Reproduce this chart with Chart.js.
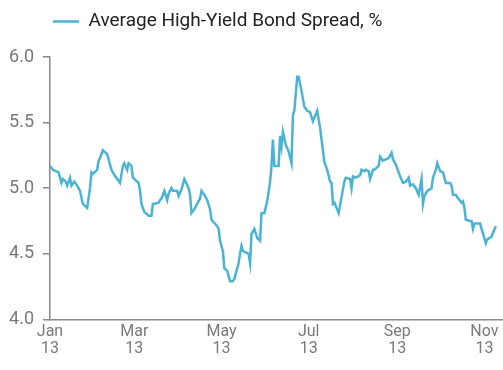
<!DOCTYPE html>
<html>
<head>
<meta charset="utf-8">
<script src="https://cdn.jsdelivr.net/npm/chart.js@4.4.1/dist/chart.umd.min.js"></script>
<style>
  html, body { margin: 0; padding: 0; background: #fff; }
  #wrap { width: 503px; height: 370px; }
</style>
</head>
<body>
<div id="wrap"><canvas id="spreadChart" width="503" height="370"></canvas></div>
<script>
// day of year (0 = 1 Jan 2013) and spread in %
const dayOfYear = [
  0, 2, 6, 8, 9, 11, 12, 14, 15, 17, 19, 21, 23, 26, 28, 29, 30, 33, 34, 35,
  37, 40, 43, 45, 49, 51, 52, 54, 55, 57, 58, 62, 63, 64, 66, 69, 71, 72, 76, 77,
  78, 80, 82, 83, 85, 86, 89, 90, 92, 94, 97, 98, 99, 101, 103, 105, 106, 108, 110, 112,
  113, 117, 118, 119, 121, 122, 124, 126, 128, 129, 132, 133, 134, 135, 137, 139, 140, 141, 143, 145,
  147, 148, 150, 152, 154, 155, 156, 157, 160, 161, 162, 163, 165, 167, 169, 170, 171, 173, 174, 176,
  178, 180, 182, 184, 187, 189, 192, 194, 196, 197, 198, 199, 202, 204, 206, 207, 210, 211, 212, 214,
  217, 218, 220, 221, 223, 224, 226, 227, 230, 231, 233, 235, 237, 239, 240, 242, 245, 247, 249, 251,
  252, 254, 256, 258, 260, 261, 262, 264, 267, 268, 270, 271, 273, 275, 277, 280, 281, 282, 284, 285,
  288, 289, 290, 291, 294, 295, 296, 297, 301, 302, 305, 306, 309, 310, 312
];
const spread = [
  5.17, 5.14, 5.12, 5.04, 5.07, 5.05, 5.02, 5.08, 5.02, 5.05, 5.02, 4.98, 4.88, 4.85, 5.00, 5.12, 5.11, 5.14, 5.21, 5.23,
  5.29, 5.26, 5.14, 5.10, 5.04, 5.17, 5.19, 5.14, 5.19, 5.17, 5.08, 5.04, 4.98, 4.88, 4.82, 4.79, 4.79, 4.88, 4.89, 4.91,
  4.92, 4.98, 4.91, 4.96, 5.00, 4.98, 4.98, 4.94, 4.99, 5.07, 5.00, 4.95, 4.81, 4.84, 4.88, 4.92, 4.98, 4.95, 4.91, 4.84,
  4.76, 4.71, 4.69, 4.60, 4.52, 4.39, 4.37, 4.29, 4.29, 4.31, 4.43, 4.50, 4.56, 4.52, 4.51, 4.50, 4.43, 4.65, 4.69, 4.62,
  4.60, 4.81, 4.81, 4.90, 5.05, 5.17, 5.37, 5.17, 5.17, 5.40, 5.32, 5.43, 5.33, 5.28, 5.19, 5.56, 5.59, 5.85, 5.85, 5.74,
  5.62, 5.59, 5.58, 5.51, 5.59, 5.46, 5.20, 5.14, 5.05, 5.04, 4.88, 4.89, 4.81, 4.93, 5.05, 5.08, 5.07, 5.00, 5.09, 5.08,
  5.10, 5.14, 5.13, 5.14, 5.13, 5.07, 5.14, 5.14, 5.17, 5.24, 5.21, 5.22, 5.23, 5.27, 5.22, 5.18, 5.09, 5.04, 5.05, 5.08,
  5.02, 5.03, 5.00, 4.95, 5.07, 4.88, 4.94, 4.98, 5.00, 5.08, 5.14, 5.19, 5.13, 5.12, 5.04, 5.04, 5.02, 4.95, 4.95, 4.93,
  4.89, 4.90, 4.85, 4.76, 4.75, 4.75, 4.69, 4.73, 4.73, 4.69, 4.58, 4.61, 4.63, 4.66, 4.71
];

// x-axis ticks: first day of every other month
const monthTicks = [0, 59, 120, 181, 243, 304];
const monthLabels = ['Jan', 'Mar', 'May', 'Jul', 'Sep', 'Nov'];
const yearLabel = '13';

const lineColor = '#4bb3d3';
const axisColor = '#8a8a8a';
const tickColor = '#7a7a7a';
const fontFamily = '"Liberation Sans Narrow", "Roboto", sans-serif';

// add some space between the legend and the plot
const legendGap = {
  id: 'legendGap',
  beforeInit(chart) {
    const fit = chart.legend.fit;
    chart.legend.fit = function () {
      fit.bind(chart.legend)();
      this.height += 16;
    };
  }
};

const points = dayOfYear.map((d, i) => ({ x: d, y: spread[i] }));

new Chart(document.getElementById('spreadChart'), {
  type: 'line',
  data: {
    datasets: [{
      label: 'Average High-Yield Bond Spread, %',
      data: points,
      borderColor: lineColor,
      backgroundColor: lineColor,
      borderWidth: 2.5,
      pointRadius: 0,
      tension: 0
    }]
  },
  options: {
    responsive: false,
    animation: false,
    devicePixelRatio: 1,
    layout: { padding: { top: 9, right: 0, bottom: 9, left: 0 } },
    plugins: {
      legend: {
        position: 'top',
        align: 'start',
        fullSize: false,
        labels: {
          usePointStyle: true,
          pointStyle: 'line',
          pointStyleWidth: 26,
          padding: 3,
          color: '#222',
          font: { family: fontFamily, size: 19 }
        }
      },
      tooltip: { enabled: false }
    },
    scales: {
      x: {
        type: 'linear',
        min: 0,
        max: 317,
        grid: { display: false, drawTicks: false },
        border: { display: true, color: axisColor, width: 1.5 },
        afterBuildTicks(scale) {
          scale.ticks = monthTicks.map(v => ({ value: v }));
        },
        ticks: {
          padding: 4,
          maxRotation: 0,
          autoSkip: false,
          color: tickColor,
          font: { family: fontFamily, size: 16, lineHeight: 1.05 },
          callback(value) {
            const i = monthTicks.indexOf(value);
            return i < 0 ? '' : [monthLabels[i], yearLabel];
          }
        }
      },
      y: {
        min: 4.0,
        max: 6.0,
        grid: { drawOnChartArea: false, drawTicks: true, tickLength: 7, color: axisColor, lineWidth: 1.5 },
        border: { display: true, color: axisColor, width: 1.5 },
        afterFit(scale) { scale.width = 50; },
        ticks: {
          stepSize: 0.5,
          padding: 9,
          color: tickColor,
          font: { family: fontFamily, size: 18 },
          callback: v => v.toFixed(1)
        }
      }
    }
  },
  plugins: [legendGap]
});
</script>
</body>
</html>
